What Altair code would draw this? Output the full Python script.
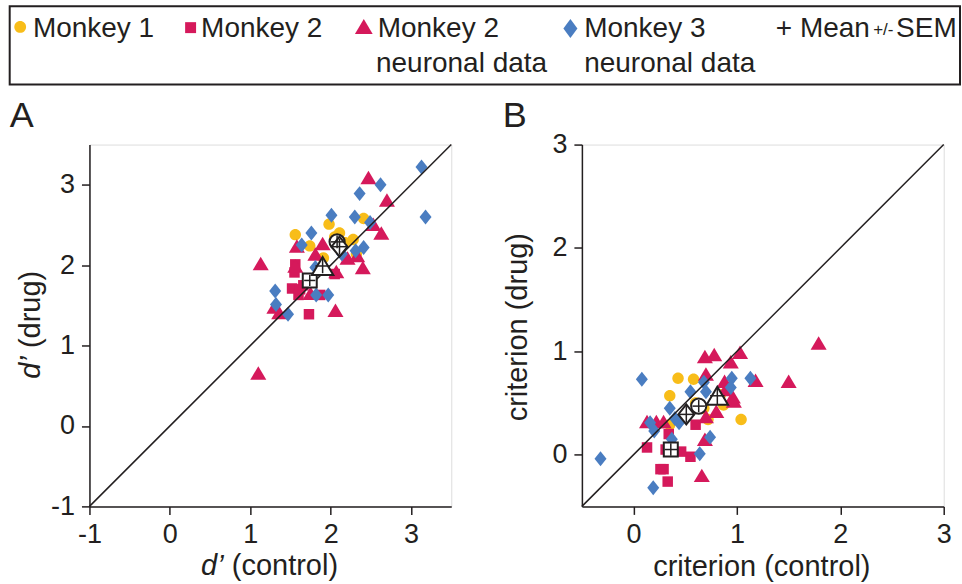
import altair as alt
import pandas as pd

FONT = "Liberation Sans"
INK = "#231F20"

SERIES = ["Monkey 1", "Monkey 2", "Monkey 2 neuronal data", "Monkey 3 neuronal data"]
COLORS = ["#F8BD19", "#D5195B", "#D5195B", "#4A7DC1"]
CIRCLE = "M0.76,0A0.76,0.76 0 1,1 -0.76,0A0.76,0.76 0 1,1 0.76,0Z"
SQUARE = "M-0.7,-0.7L0.7,-0.7L0.7,0.7L-0.7,0.7Z"
TRIANGLE = "M0,-0.9L1.07,0.9L-1.07,0.9Z"
DIAMOND = "M0,-1L0.8,0L0,1L-0.8,0Z"
LEGEND_DIAMOND = "M0,-1L0.74,0L0,1L-0.74,0Z"
SHAPES = [CIRCLE, SQUARE, TRIANGLE, DIAMOND]
POINT_SIZE = 225
MEAN_SIZE = 400

# ---------------- Panel A : d' ----------------
a_m1_x = [1.56, 1.74, 1.98, 2.11, 2.28, 2.41, 2.32, 1.91, 2.18, 2.05]
a_m1_y = [2.38, 2.24, 2.51, 2.40, 2.32, 2.58, 2.14, 2.09, 2.28, 2.35]
a_m2_x = [1.56, 1.55, 1.52, 1.62, 1.60, 1.73, 1.87, 2.05, 1.66]
a_m2_y = [2.01, 1.91, 1.71, 1.70, 1.63, 1.39, 1.63, 1.89, 1.75]
a_m2n_x = [1.13, 1.10, 2.47, 2.70, 2.63, 2.53, 2.40, 2.06, 2.07, 2.21, 1.90, 1.81, 1.58, 1.36, 1.30, 1.56, 2.33, 1.75]
a_m2n_y = [2.02, 0.66, 3.09, 2.81, 2.40, 2.51, 1.97, 1.44, 1.92, 2.09, 2.27, 2.14, 2.24, 1.41, 1.48, 1.99, 2.12, 1.65]
a_m3_x = [3.13, 3.18, 2.62, 2.36, 2.01, 2.30, 2.49, 1.76, 1.64, 2.41, 2.31, 2.14, 1.31, 1.32, 1.47, 1.82, 1.97, 1.81]
a_m3_y = [3.22, 2.60, 3.00, 2.89, 2.62, 2.60, 2.53, 2.40, 2.25, 2.22, 2.18, 2.14, 1.68, 1.51, 1.39, 1.63, 1.63, 1.97]
a_mean_x = [2.08, 1.74, 1.90, 2.11]
a_mean_y = [2.29, 1.81, 1.99, 2.23]
a_sem_x = [0.08, 0.07, 0.09, 0.09]
a_sem_y = [0.08, 0.07, 0.09, 0.10]
a_domain = [-1, 3.5]
a_ticks = [-1, 0, 1, 2, 3]

# ---------------- Panel B : criterion ----------------
b_m1_x = [0.43, 0.58, 0.35, 1.04, 0.72, 0.87, 0.35, 0.84, 0.60, 0.68]
b_m1_y = [0.74, 0.73, 0.57, 0.34, 0.34, 0.48, 0.29, 0.58, 0.50, 0.45]
b_m2_x = [0.13, 0.34, 0.26, 0.29, 0.33, 0.55, 0.46, 0.60, 0.31]
b_m2_y = [0.07, 0.20, -0.14, -0.14, -0.26, -0.02, 0.03, 0.29, 0.05]
b_m2n_x = [1.79, 1.50, 1.03, 0.78, 0.69, 0.94, 1.18, 0.70, 0.88, 0.96, 0.97, 0.80, 0.66, 0.69, 0.13, 0.22, 0.29, 0.70, 0.89]
b_m2n_y = [1.08, 0.71, 0.99, 0.97, 0.95, 0.90, 0.72, 0.78, 0.71, 0.56, 0.52, 0.42, -0.20, 0.15, 0.32, 0.32, 0.32, 0.37, 0.63]
b_m3_x = [-0.32, 0.08, 0.19, 0.16, 0.20, 0.35, 0.55, 0.68, 0.70, 0.44, 0.74, 0.64, 0.95, 0.94, 1.13, 0.37, 0.40]
b_m3_y = [-0.04, 0.73, -0.32, 0.31, 0.23, 0.45, 0.61, 0.70, 0.61, 0.31, 0.17, 0.01, 0.74, 0.65, 0.74, 0.15, 0.35]
b_mean_x = [0.63, 0.36, 0.81, 0.51]
b_mean_y = [0.47, 0.05, 0.57, 0.39]
b_sem_x = [0.06, 0.06, 0.07, 0.07]
b_sem_y = [0.06, 0.06, 0.08, 0.08]
b_domain = [-0.5, 3]
b_ticks = [0, 1, 2, 3]

W = 362
H = 362


def points_df(xs, ys):
    rows = []
    for name, xv, yv in zip(SERIES, xs, ys):
        for a, b in zip(xv, yv):
            rows.append({"series": name, "x": a, "y": b})
    return pd.DataFrame(rows)


def means_df(mx, my, sx, sy):
    return pd.DataFrame({
        "series": SERIES, "mx": mx, "my": my,
        "xlo": [m - s for m, s in zip(mx, sx)], "xhi": [m + s for m, s in zip(mx, sx)],
        "ylo": [m - s for m, s in zip(my, sy)], "yhi": [m + s for m, s in zip(my, sy)],
    })


def axis(vals):
    return alt.Axis(values=vals, title=None, grid=False, domainColor=INK, domainWidth=1.5,
                    tickColor=INK, tickWidth=1.5, tickSize=8, labelFont=FONT,
                    labelFontSize=27, labelColor=INK, labelPadding=7, labelFlush=False,
                    labelOverlap=False, labelExpr="'' + datum.value")


def txt(s, x, y, size, angle=0, align="left", italic=False):
    kw = dict(align=align, baseline="alphabetic", font=FONT, fontSize=size, color=INK)
    if angle:
        kw["angle"] = angle
    if italic:
        kw["fontStyle"] = "italic"
    return alt.Chart(pd.DataFrame({"t": [s]})).mark_text(**kw).encode(
        x=alt.value(x), y=alt.value(y), text="t:N")


def sym(name, shape, color, size, x, y):
    return alt.Chart(pd.DataFrame({"s": [name]})).mark_point(
        shape=shape, filled=True, color=color, size=size, opacity=1, strokeWidth=0
    ).encode(x=alt.value(x), y=alt.value(y))


def panel(pts, means, dom, ticks, extra):
    sx = alt.Scale(domain=dom, nice=False, zero=False)
    sy = alt.Scale(domain=dom, nice=False, zero=False)
    ax = axis(ticks)
    ay = axis(ticks)
    shape_scale = alt.Scale(domain=SERIES, range=SHAPES)
    data_layer = alt.Chart(pts).mark_point(
        filled=True, opacity=1, strokeWidth=0, size=POINT_SIZE).encode(
        x=alt.X("x:Q", scale=sx, axis=ax),
        y=alt.Y("y:Q", scale=sy, axis=ay),
        color=alt.Color("series:N", scale=alt.Scale(domain=SERIES, range=COLORS), legend=None),
        shape=alt.Shape("series:N", scale=shape_scale, legend=None),
    )
    diag = alt.Chart(pd.DataFrame({"v": dom})).mark_line(color=INK, strokeWidth=1.5).encode(
        x=alt.X("v:Q", scale=sx, axis=ax), y=alt.Y("v:Q", scale=sy, axis=ay))
    mean_layer = alt.Chart(means).mark_point(
        filled=True, fill="white", stroke=INK, strokeWidth=2, opacity=1, size=MEAN_SIZE).encode(
        x=alt.X("mx:Q", scale=sx, axis=ax),
        y=alt.Y("my:Q", scale=sy, axis=ay),
        shape=alt.Shape("series:N", scale=shape_scale, legend=None),
    )
    err_h = alt.Chart(means).mark_rule(color=INK, strokeWidth=1.5).encode(
        x=alt.X("xlo:Q", scale=sx, axis=ax), x2="xhi:Q", y=alt.Y("my:Q", scale=sy, axis=ay))
    err_v = alt.Chart(means).mark_rule(color=INK, strokeWidth=1.5).encode(
        x=alt.X("mx:Q", scale=sx, axis=ax), y=alt.Y("ylo:Q", scale=sy, axis=ay), y2="yhi:Q")
    return alt.layer(data_layer, diag, mean_layer, err_h, err_v, *extra).properties(
        width=W, height=H)


# legend (drawn inside panel A's frame, positions in pixels relative to panel A)
legend_layers = [
    alt.Chart(pd.DataFrame({"b": [1]})).mark_rect(fillOpacity=0, stroke=INK, strokeWidth=2).encode(
        x=alt.value(-79.8), x2=alt.value(871), y=alt.value(-138.5), y2=alt.value(-60)),
    sym(SERIES[0], SHAPES[0], COLORS[0], 240, -69.3, -117.7),
    txt("Monkey 1", -56.6, -107.3, 28),
    sym(SERIES[1], SHAPES[1], COLORS[1], 245, 101.2, -117),
    txt("Monkey 2", 111.7, -107.3, 28),
    sym(SERIES[2], SHAPES[2], COLORS[2], 275, 274.5, -118.2),
    txt("Monkey 2", 288.4, -107.3, 28),
    txt("neuronal data", 286.7, -72.3, 28),
    sym(SERIES[3], LEGEND_DIAMOND, COLORS[3], 361, 481.2, -116.2),
    txt("Monkey 3", 495, -107.3, 28),
    txt("neuronal data", 495, -72.3, 28),
    txt("+ Mean", 686.7, -107.3, 28),
    txt("+/-", 794.3, -109.5, 17, align="center"),
    txt("SEM", 867.7, -107.3, 28, align="right"),
]

a_extra = [
    txt("A", -79.8, -18, 36),
    txt("d\u2019", 111.7, 431, 29, italic=True),
    txt("(control)", 142.4, 431, 29),
    txt("d\u2019", -49.8, 234.3, 29, angle=270, italic=True),
    txt("(drug)", -49.8, 203.6, 29, angle=270),
] + legend_layers

b_extra = [
    txt("B", -79.3, -18, 36),
    txt("criterion (control)", 180, 432, 29, align="center"),
    txt("criterion (drug)", -54.5, 182.7, 29, angle=270, align="center"),
]

panel_a = panel(points_df([a_m1_x, a_m2_x, a_m2n_x, a_m3_x], [a_m1_y, a_m2_y, a_m2n_y, a_m3_y]),
                means_df(a_mean_x, a_mean_y, a_sem_x, a_sem_y), a_domain, a_ticks, a_extra)
panel_b = panel(points_df([b_m1_x, b_m2_x, b_m2n_x, b_m3_x], [b_m1_y, b_m2_y, b_m2n_y, b_m3_y]),
                means_df(b_mean_x, b_mean_y, b_sem_x, b_sem_y), b_domain, b_ticks, b_extra)

chart = alt.hconcat(panel_a, panel_b, spacing=130.7, bounds="flush").properties(
    padding={"left": 7.5, "top": 4.5, "right": 0, "bottom": 0}
).configure_view(stroke="transparent").configure(background="white")

chart.save("out.html", embed_options={"renderer": "svg", "actions": False})
